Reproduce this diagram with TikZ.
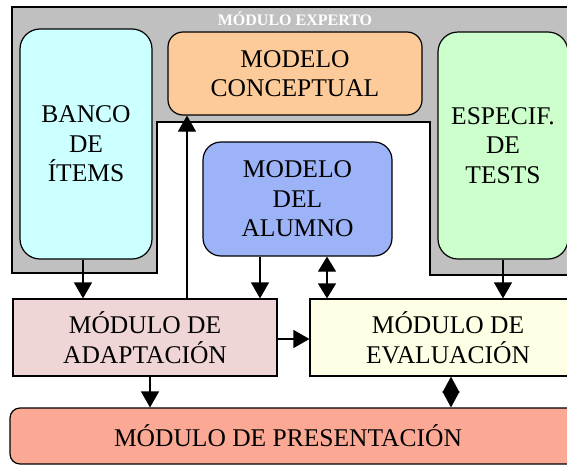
\documentclass[tikz,border=0pt]{standalone}
\usepackage{fontspec}
\setmainfont{Liberation Serif}
\newfontfamily\tnr{Liberation Serif}
\usetikzlibrary{arrows.meta}
\definecolor{grayreg}{HTML}{C0C0C0}
\definecolor{cbanco}{HTML}{CCFFFF}
\definecolor{cconc}{HTML}{FCCB99}
\definecolor{ctests}{HTML}{CCFFCC}
\definecolor{calum}{HTML}{9DB3F7}
\definecolor{cadapt}{HTML}{EFD5D5}
\definecolor{ceval}{HTML}{FFFFE6}
\definecolor{cpres}{HTML}{FBA894}
\tikzset{
  box/.style={draw=black, line width=1.2pt, inner sep=0pt, align=center,
    font=\tnr\fontsize{25.5}{29.5}\selectfont, text=black},
  rbox/.style={box, rounded corners=#1},
  txt/.style={inner sep=0pt, align=center, font=\tnr\fontsize{25.5}{29.5}\selectfont, text=black},
  arr/.style={line width=1.2pt, -{Triangle[width=18pt,length=16pt]}},
  darr/.style={line width=1.2pt, {Triangle[width=18pt,length=15pt]}-{Triangle[width=18pt,length=15pt]}},
  dia/.style={line width=1.2pt, {Triangle[width=17pt,length=16pt]}-{Triangle[width=17pt,length=16pt]}},
}
\begin{document}
\begin{tikzpicture}[x=1pt,y=-1pt]
\useasboundingbox (0,0) rectangle (567,466);
\clip (0,0) rectangle (567,466);
% grey expert module region
\draw[fill=grayreg, line width=1.2pt] (12,7) -- (590,7) -- (590,275) -- (430,275) -- (430,122)
  -- (157,122) -- (157,273) -- (12,273) -- cycle;
\node[inner sep=0pt, text=white, font=\tnr\fontsize{16}{16}\bfseries\selectfont] (exp) at (295,19) {MÓDULO EXPERTO};
% expert boxes
\node[rbox=20pt, fill=cbanco, minimum width=132pt, minimum height=230pt] (banco) at (86,144) {BANCO\\DE\\ÍTEMS};
\node[rbox=15pt, fill=cconc, minimum width=254pt, minimum height=83pt] (conc) at (295,73.5) {MODELO\\CONCEPTUAL};
\node[rbox=20pt, fill=ctests, minimum width=130pt, minimum height=227pt] (tests) at (503,145.5) {ESPECIF.\\DE\\TESTS};
\node[rbox=18pt, fill=calum, minimum width=189pt, minimum height=114pt] (alum) at (297.5,199) {MODELO\\DEL\\ALUMNO};
% lower modules
\node[box, fill=cadapt, minimum width=264pt, minimum height=77pt] (adapt) at (145,337.5) {MÓDULO DE\\ADAPTACIÓN};
\node[box, fill=ceval, minimum width=280pt, minimum height=77pt] (eval) at (450,337.5) {};
\node[txt] (evaltxt) at (448,337.5) {MÓDULO DE\\EVALUACIÓN};
\node[rbox=10pt, fill=cpres, minimum width=580pt, minimum height=56pt] (pres) at (300,436) {};
\node[txt] (prestxt) at (288,436) {MÓDULO DE PRESENTACIÓN};
% connectors
\coordinate (xb) at (83,0);
\coordinate (xc) at (187,0);
\coordinate (xa) at (260,0);
\coordinate (xd) at (327,0);
\coordinate (xp) at (150,0);
\coordinate (xe) at (451,0);
\coordinate (ym) at (0,339);
\draw[arr] (banco.south -| xb) -- (adapt.north -| xb);
\draw[arr] (adapt.north -| xc) -- (conc.south -| xc);
\draw[arr] (alum.south -| xa) -- (adapt.north -| xa);
\draw[darr] (alum.south -| xd) -- (eval.north -| xd);
\draw[arr] (tests.south) -- (tests.south |- eval.north);
\draw[arr] (adapt.east |- ym) -- (eval.west |- ym);
\draw[arr] (adapt.south -| xp) -- (pres.north -| xp);
\draw[dia] (eval.south -| xe) -- (pres.north -| xe);
\end{tikzpicture}
\end{document}
